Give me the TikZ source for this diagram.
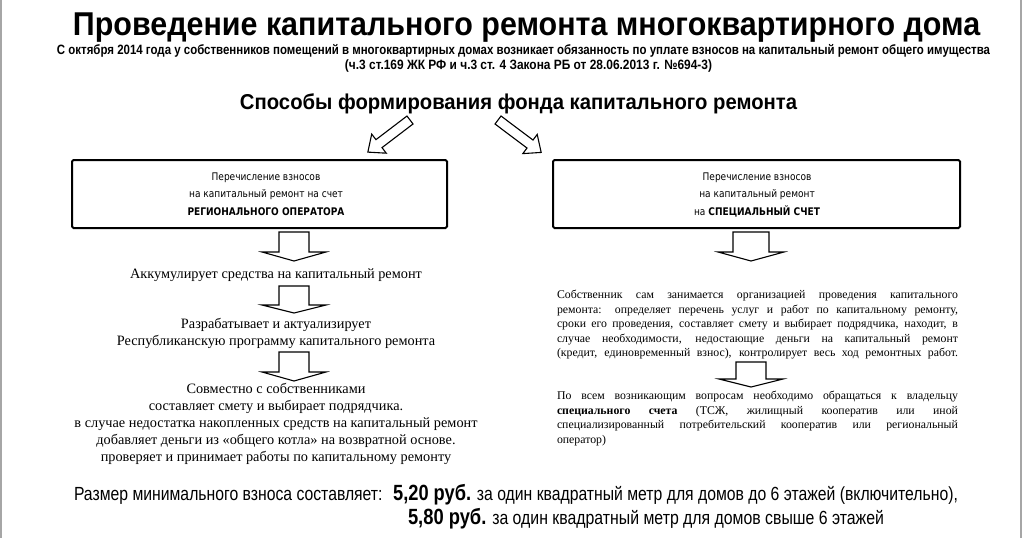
\documentclass[tikz,border=0pt]{standalone}
\usepackage{fontspec}
\usepackage{graphicx}
\setmainfont{Liberation Serif}
\newfontfamily\hsans{Liberation Sans}
\newfontfamily\bsans[FakeStretch=0.86]{DejaVu Sans}
\newcommand\fs[2]{\fontsize{#1}{#2}\selectfont}
\newcommand\hollowarr[4]{%
  \begin{scope}[shift={(#1,#2)}, rotate=#3]
    \draw[blockarr] (0,-5) -- (#4-14,-5) -- (#4-14,-12) -- (#4,0) -- (#4-14,12) -- (#4-14,5) -- (0,5) -- cycle;
  \end{scope}}
\newcommand\downblk[6]{% cx, ytop, yshoulder, ytip, shaft half, head half
  \draw[blockarr] (#1-#5,#2) -- (#1+#5,#2) -- (#1+#5,#3) -- (#1+#6,#3) -- (#1,#4) -- (#1-#6,#3) -- (#1-#5,#3) -- cycle;}
\begin{document}
\begin{tikzpicture}[x=1pt,y=-1pt,
  every node/.style={inner sep=0pt, outer sep=0pt},
  framebox/.style={draw=black, line width=2pt, rounded corners=1.5pt, fill=white},
  blockarr/.style={draw=black, line width=1.1pt, fill=white, line join=miter},
  sideline/.style={draw=black!35, line width=1.5pt},
  serif/.style={font=\fs{14.3}{17}, align=center},
  para/.style={font=\fs{11.8}{14.6}, align=left},
  boxtxt/.style={font=\bsans\fs{10.5}{17.5}, align=center}]
\useasboundingbox (0,0) rectangle (1024,538);
\fill[white] (0,0) rectangle (1024,538);
\draw[sideline] (1,0) -- (1,538);
\draw[sideline] (1021,0) -- (1021,538);

% titles
\node[anchor=base] (title) at (526.5,35) {\resizebox{907pt}{\height}{\hsans\bfseries\fs{33}{34}Проведение капитального ремонта многоквартирного дома}};
\node[anchor=base] (sub1) at (523.5,54) {\resizebox{933pt}{\height}{\hsans\bfseries\fs{13.5}{14}С октября 2014 года у собственников помещений в многоквартирных домах возникает обязанность по уплате взносов на капитальный ремонт общего имущества}};
\node[anchor=base] (sub2) at (528.5,69) {\resizebox{367pt}{\height}{\hsans\bfseries\fs{13.5}{14}(ч.3 ст.169 ЖК РФ и ч.3 ст. 4 Закона РБ от 28.06.2013 г. №694-3)}};
\node[anchor=base] (head) at (518.5,109) {\resizebox{557pt}{\height}{\hsans\bfseries\fs{21.5}{22}Способы формирования фонда капитального ремонта}};

% diagonal arrows
\hollowarr{410}{120}{217.3}{53}
\hollowarr{498}{120}{-36.9}{54}

% boxes
\node[framebox, minimum width=375pt, minimum height=68pt, anchor=north west] (boxL) at (72,160) {};
\node[framebox, minimum width=407pt, minimum height=68pt, anchor=north west] (boxR) at (553,160) {};
\node[boxtxt, anchor=north] (boxLt) at (266,172.5) {Перечисление взносов\\на капитальный ремонт на счет\\\textbf{РЕГИОНАЛЬНОГО ОПЕРАТОРА}};
\node[boxtxt, anchor=north] (boxRt) at (757,172.5) {Перечисление взносов\\на капитальный ремонт\\на \textbf{СПЕЦИАЛЬНЫЙ СЧЕТ}};

% left column
\downblk{294}{232}{252}{261}{15}{32}
\node[serif, anchor=base] (acc) at (276,278) {Аккумулирует средства на капитальный ремонт};
\downblk{294}{286}{305}{313}{15}{32}
\node[serif, anchor=north] (dev) at (276,318) {Разрабатывает и актуализирует\\Республиканскую программу капитального ремонта};
\downblk{294}{352}{372}{381}{15}{32}
\node[serif, anchor=north] (coop) at (276,383) {Совместно с собственниками\\составляет смету и выбирает подрядчика.\\в случае недостатка накопленных средств на капитальный ремонт\\добавляет деньги из «общего котла» на возвратной основе.\\проверяет и принимает работы по капитальному ремонту};

% right column
\downblk{751}{232}{252}{261}{18}{33}
\node[para, anchor=north west] (own) at (557,290) {%
\makebox[401pt][s]{Собственник сам занимается организацией проведения капитального}\\
\makebox[401pt][s]{ремонта: определяет перечень услуг и работ по капитальному ремонту,}\\
\makebox[401pt][s]{сроки его проведения, составляет смету и выбирает подрядчика, находит, в}\\
\makebox[401pt][s]{случае необходимости, недостающие деньги на капитальный ремонт}\\
\makebox[401pt][s]{(кредит, единовременный взнос), контролирует весь ход ремонтных работ.}};
\downblk{751}{362}{379}{387}{15}{32}
\node[para, anchor=north west] (ask) at (557,391) {%
\makebox[401pt][s]{По всем возникающим вопросам необходимо обращаться к владельцу}\\
\makebox[401pt][s]{\textbf{специального счета} (ТСЖ, жилищный кооператив или иной}\\
\makebox[401pt][s]{специализированный потребительский кооператив или региональный}\\
оператор)};

% bottom
\node[anchor=base west] (rate1) at (74,500) {\resizebox{884pt}{\height}{\hsans\fs{19}{20}Размер минимального взноса составляет:\hspace{0.3em} {\fs{22}{22}\bfseries 5,20 руб.} за один квадратный метр для домов до 6 этажей (включительно),}};
\node[anchor=base west] (rate2) at (408,524) {\resizebox{476pt}{\height}{\hsans\fs{19}{20}{\fs{22}{22}\bfseries 5,80 руб.} за один квадратный метр для домов свыше 6 этажей}};
\end{tikzpicture}
\end{document}
